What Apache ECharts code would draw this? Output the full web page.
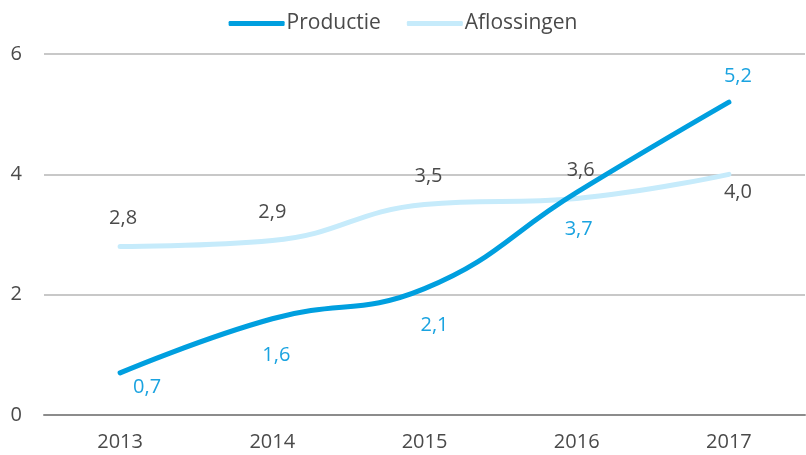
<!DOCTYPE html>
<html>
<head>
<meta charset="utf-8">
<script src="https://cdn.jsdelivr.net/npm/echarts@6/dist/echarts.min.js"></script>
<style>
  html, body { margin: 0; padding: 0; background: #fff; }
  #chart { width: 806px; height: 455px; }
</style>
</head>
<body>
<div id="chart"></div>
<script>
var years = ['2013', '2014', '2015', '2016', '2017'];
var productie = [0.7, 1.6, 2.1, 3.7, 5.2];
var aflossingen = [2.8, 2.9, 3.5, 3.6, 4.0];

// label placement per point (style only)
var prodLabelPos = ['bottom', 'bottom', 'bottom', 'bottom', 'top'];
var prodLabelDist = [4, 27, 27, 27, 16];
var prodLabelShift = [[27, 0], [4, 0], [10, 0], [2, 0], [9, 0]];
var aflLabelPos = ['top', 'top', 'top', 'top', 'bottom'];
var aflLabelDist = [18, 18, 18, 18, 8];
var aflLabelShift = [[3, 0], [0, 0], [4, 0], [4, 0], [9, 0]];

function fmt(v) { return v.toFixed(1).replace('.', ','); }

function buildData(values, pos, dist, shift, color) {
  return values.map(function (v, i) {
    return {
      value: v,
      label: { show: true, position: pos[i], distance: dist[i], offset: shift[i], color: color }
    };
  });
}

var chart = echarts.init(document.getElementById('chart'));
chart.setOption({
  animation: false,
  textStyle: { fontFamily: 'Open Sans' },
  legend: {
    top: 8,
    left: 'center',
    itemWidth: 56,
    itemHeight: 5,
    itemGap: 26,
    textStyle: { fontSize: 21, color: '#4a4a4a', padding: [0, 0, 0, -3] },
    data: [
      { name: 'Productie', icon: 'roundRect' },
      { name: 'Aflossingen', icon: 'roundRect' }
    ]
  },
  grid: { left: 44, right: 1, top: 54, bottom: 40 },
  xAxis: {
    type: 'category',
    data: years,
    boundaryGap: true,
    axisLine: { lineStyle: { color: '#8c8c8c', width: 2 } },
    axisTick: { show: false },
    axisLabel: { fontSize: 20, color: '#4a4a4a', margin: 17 }
  },
  yAxis: {
    type: 'value',
    min: 0,
    max: 6,
    interval: 2,
    axisLine: { show: false },
    axisTick: { show: false },
    splitLine: { lineStyle: { color: '#c8c8c8', width: 2 } },
    axisLabel: { fontSize: 20, color: '#4a4a4a', margin: 22 }
  },
  series: [
    {
      name: 'Productie',
      type: 'line',
      smooth: 0.45,
      symbol: 'circle',
      symbolSize: 0,
      showSymbol: true,
      z: 3,
      color: '#009fdf',
      lineStyle: { width: 5, color: '#009fdf', cap: 'round' },
      label: { show: true, fontSize: 20, formatter: function (p) { return fmt(p.value); } },
      data: buildData(productie, prodLabelPos, prodLabelDist, prodLabelShift, '#1aa3e0')
    },
    {
      name: 'Aflossingen',
      type: 'line',
      smooth: 0.45,
      symbol: 'circle',
      symbolSize: 0,
      showSymbol: true,
      z: 2,
      color: '#c6ebfb',
      lineStyle: { width: 5, color: '#c6ebfb', cap: 'round' },
      label: { show: true, fontSize: 20, formatter: function (p) { return fmt(p.value); } },
      data: buildData(aflossingen, aflLabelPos, aflLabelDist, aflLabelShift, '#4a4a4a')
    }
  ]
});
window.addEventListener('resize', function () {
  chart.resize();
});
</script>
</body>
</html>
